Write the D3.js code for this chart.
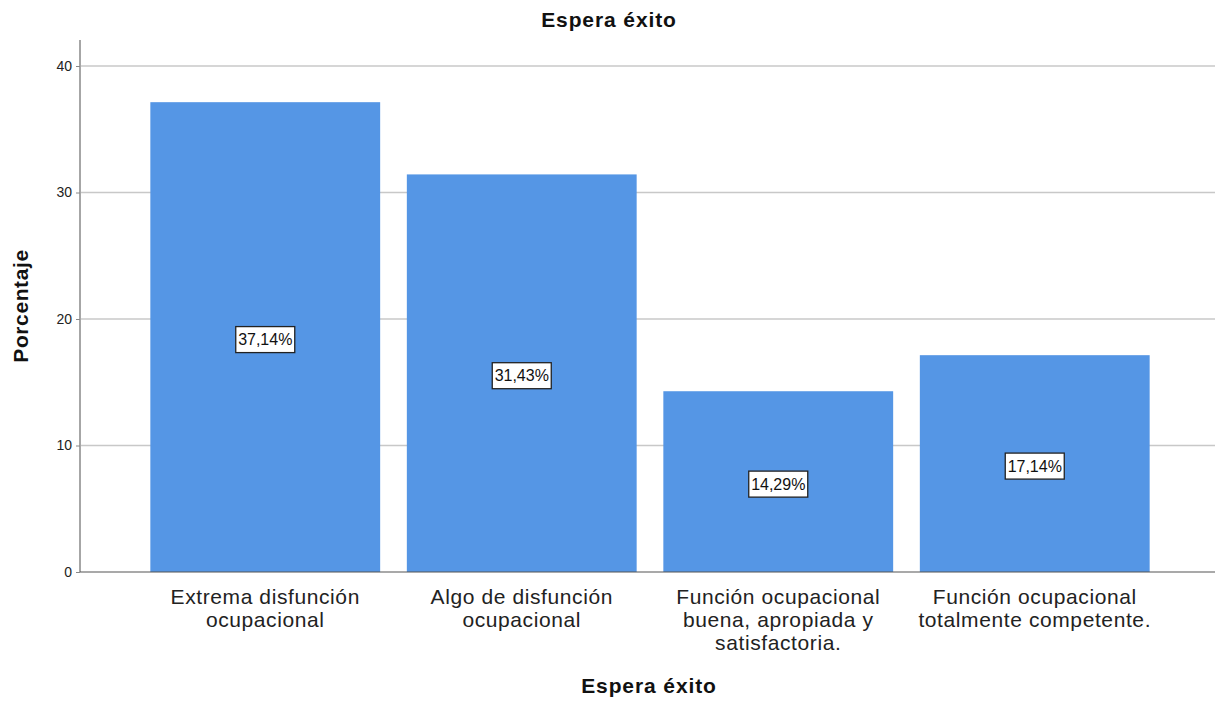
<!DOCTYPE html>
<html><head><meta charset="utf-8">
<script src="https://cdn.jsdelivr.net/npm/d3@7"></script>
<style>body{margin:0;background:#fff}svg{display:block}text{font-family:"Liberation Sans",Arial,sans-serif}</style>
</head><body><svg id="c" width="1215" height="702"></svg>
<script>
const categories = [
  ["Extrema disfunción","ocupacional"],
  ["Algo de disfunción","ocupacional"],
  ["Función ocupacional","buena, apropiada y","satisfactoria."],
  ["Función ocupacional","totalmente competente."]
];
const values = [37.14, 31.43, 14.29, 17.14];
const valueLabels = ["37,14%","31,43%","14,29%","17,14%"];
const yTicks = [0,10,20,30,40];
const title = "Espera éxito";
const xTitle = "Espera éxito";
const yTitle = "Porcentaje";

const svg = d3.select("#c");
const x0 = 80, x1 = 1215, yBottom = 572, yTopAxis = 40;
const y = d3.scaleLinear().domain([0,40]).range([572,66]);
const x = d3.scaleBand().domain(d3.range(categories.length)).range([137,1163]).paddingInner(0.104).paddingOuter(0.052);

// gridlines
svg.append("g").selectAll("line").data(yTicks.filter(d=>d>0)).join("line")
  .attr("x1",x0+1).attr("x2",x1).attr("y1",d=>y(d)).attr("y2",d=>y(d))
  .attr("stroke","#c8c8c8").attr("stroke-width",1.5);

// bars
svg.append("g").selectAll("rect").data(values).join("rect")
  .attr("x",(d,i)=>x(i)).attr("width",x.bandwidth())
  .attr("y",d=>y(d)).attr("height",d=>y(0)-y(d))
  .attr("fill","#5596e5");

// y axis
const yAxis = d3.axisLeft(y).tickValues(yTicks).tickSize(4).tickPadding(4).tickFormat(d3.format("d"));
const ga = svg.append("g").attr("transform",`translate(${x0},0)`).call(yAxis);
ga.select(".domain").remove();
ga.selectAll(".tick line").attr("stroke","#888");
ga.selectAll(".tick text").attr("font-size",14).attr("fill","#222").attr("font-family","Liberation Sans, Arial, sans-serif");
svg.append("line").attr("x1",x0).attr("x2",x0).attr("y1",yTopAxis).attr("y2",yBottom).attr("stroke","#888").attr("stroke-width",1.5);
svg.append("line").attr("x1",x0).attr("x2",x1).attr("y1",yBottom).attr("y2",yBottom).attr("stroke","#555").attr("stroke-width",1.2);

// category labels
const cl = svg.append("g").selectAll("text").data(categories).join("text")
  .attr("text-anchor","middle").attr("font-size",21).attr("letter-spacing",0.6).attr("fill","#222")
  .attr("x",(d,i)=>x(i)+x.bandwidth()/2).attr("y",604);
cl.selectAll("tspan").data(d=>d).join("tspan")
  .attr("x",function(){return this.parentNode.getAttribute("x");})
  .attr("dy",(d,i)=>i===0?0:23).text(d=>d);

// value labels
const vl = svg.append("g").selectAll("g").data(values).join("g")
  .attr("transform",(d,i)=>`translate(${x(i)+x.bandwidth()/2},${y(d/2)+2.5})`);
vl.append("text").attr("text-anchor","middle").attr("dy","0.36em").attr("font-size",16).attr("fill","#111")
  .text((d,i)=>valueLabels[i]);
vl.each(function(){
  const g = d3.select(this), t = g.select("text").node().getBBox();
  g.insert("rect","text").attr("x",-29.5).attr("y",-13).attr("width",59).attr("height",26)
   .attr("fill","#fff").attr("stroke","#222").attr("stroke-width",1.3);
});

// titles
svg.append("text").attr("x",609).attr("y",27).attr("text-anchor","middle").attr("font-size",21).attr("letter-spacing",0.9).attr("font-weight","bold").attr("fill","#111").text(title);
svg.append("text").attr("x",649).attr("y",693).attr("text-anchor","middle").attr("font-size",21).attr("letter-spacing",0.9).attr("font-weight","bold").attr("fill","#111").text(xTitle);
svg.append("text").attr("transform","translate(28,306) rotate(-90)").attr("text-anchor","middle").attr("font-size",21).attr("letter-spacing",0.6).attr("font-weight","bold").attr("fill","#111").text(yTitle);
</script></body></html>
